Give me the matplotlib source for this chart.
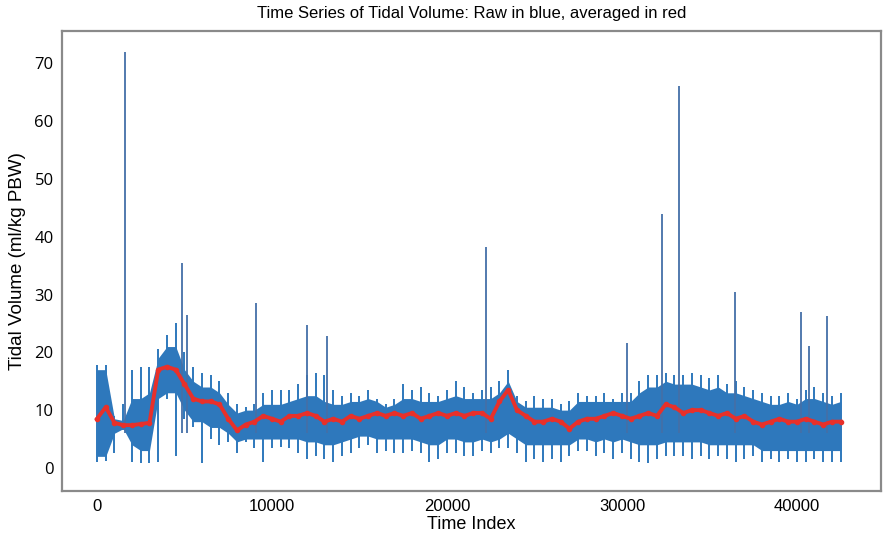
import numpy as np
import matplotlib
matplotlib.use("Agg")
import matplotlib.pyplot as plt

# bins of the time index (every 500 samples)
bin_idx = np.arange(0, 43000, 500)

# upper / lower tips of the raw (blue) trace in each bin
raw_hi = [17.8, 17.8, 9.0, 11.0, 17.0, 17.5, 17.5, 20.5, 23.0, 25.0,
          20.0, 17.5, 16.5, 16.0, 15.0, 13.0, 11.0, 10.5, 11.0, 13.0,
          13.5, 13.5, 13.5, 14.5, 16.0, 16.5, 16.0, 13.5, 12.5, 13.0,
          12.5, 13.5, 12.0, 11.0, 12.0, 14.5, 13.5, 14.0, 13.0, 12.5,
          13.5, 15.0, 14.0, 13.0, 13.5, 14.0, 15.0, 17.0, 12.5, 11.5,
          12.5, 12.0, 12.0, 11.0, 11.5, 13.0, 12.5, 12.5, 13.0, 12.0,
          13.0, 13.0, 15.0, 16.0, 16.0, 16.5, 16.0, 16.0, 16.5, 16.0,
          15.5, 16.0, 14.5, 15.0, 14.0, 13.5, 13.0, 12.5, 12.5, 13.0,
          12.0, 13.5, 14.0, 13.0, 12.5, 13.0]
raw_lo = [1.0, 1.2, 2.5, 6.5, 1.0, 0.8, 0.8, 1.0, 12.0, 2.0,
          8.5, 7.0, 0.8, 5.0, 4.0, 4.5, 2.5, 4.5, 3.5, 1.0,
          3.5, 3.7, 3.5, 2.5, 1.5, 2.0, 1.5, 1.0, 2.0, 2.5,
          3.5, 4.0, 2.5, 3.0, 2.5, 2.5, 3.0, 2.5, 1.0, 1.5,
          2.5, 2.5, 2.0, 2.0, 3.0, 2.5, 3.5, 3.5, 2.5, 1.0,
          1.5, 1.0, 1.5, 1.0, 2.0, 3.0, 3.0, 2.0, 2.5, 1.5,
          2.5, 1.5, 1.0, 0.8, 1.5, 2.0, 2.0, 2.0, 1.5, 2.0,
          1.5, 2.0, 1.5, 1.0, 1.5, 2.0, 1.0, 1.5, 1.0, 1.5,
          1.0, 1.0, 1.5, 1.0, 1.0, 1.0]

# dense core of the raw trace in each bin
core_hi = [17.0, 17.0, 8.5, 8.2, 12.0, 12.0, 13.0, 19.0, 21.0, 21.0,
           17.0, 15.0, 14.0, 14.0, 13.0, 11.0, 9.5, 10.0, 10.0, 11.0,
           11.0, 11.0, 11.5, 12.0, 12.5, 12.5, 11.5, 11.0, 11.0, 11.5,
           11.5, 12.0, 11.5, 10.5, 11.0, 12.0, 12.0, 11.5, 11.5, 11.5,
           12.0, 12.5, 12.0, 12.0, 12.0, 12.0, 13.0, 15.0, 11.5, 10.5,
           10.5, 10.5, 10.5, 10.0, 10.0, 11.5, 11.5, 11.5, 11.5, 11.5,
           11.5, 11.5, 13.0, 14.0, 14.0, 15.0, 14.5, 14.5, 14.5, 14.0,
           13.5, 14.0, 13.0, 13.0, 12.5, 12.0, 11.5, 11.0, 11.0, 11.5,
           11.0, 12.0, 12.0, 11.5, 11.0, 11.5]
core_lo = [2.0, 2.0, 6.0, 6.8, 4.0, 3.0, 3.0, 12.0, 13.0, 13.0,
           10.0, 8.0, 8.0, 7.0, 7.0, 6.0, 4.5, 5.0, 5.0, 5.0,
           5.0, 5.0, 5.0, 5.0, 4.5, 4.5, 4.0, 4.0, 4.5, 5.0,
           5.5, 5.5, 5.0, 5.0, 5.0, 5.0, 5.0, 4.5, 4.0, 4.0,
           5.0, 5.0, 4.5, 4.5, 5.0, 4.5, 5.0, 6.0, 5.0, 4.0,
           4.0, 4.0, 4.0, 4.0, 4.0, 5.0, 5.0, 4.5, 5.0, 4.5,
           5.0, 4.5, 4.0, 4.0, 4.0, 4.5, 4.5, 4.5, 4.5, 4.5,
           4.0, 4.0, 4.0, 4.0, 4.0, 4.0, 3.0, 3.0, 3.0, 3.0,
           3.0, 3.0, 3.0, 3.0, 3.0, 3.0]

# averaged (red) trace
avg_val = [8.5, 10.5, 7.8, 7.4, 7.4, 7.6, 7.8, 17.0, 17.5, 17.0,
           14.5, 12.0, 11.5, 11.5, 11.0, 8.5, 6.5, 7.5, 8.0, 9.0,
           8.5, 8.0, 9.0, 9.0, 9.5, 9.0, 8.0, 8.5, 8.0, 9.0,
           8.5, 9.0, 9.5, 9.0, 9.5, 9.0, 9.5, 8.5, 9.0, 9.5,
           9.0, 9.5, 9.0, 9.5, 9.5, 8.5, 11.5, 13.5, 10.0, 9.0,
           8.0, 8.0, 8.5, 8.0, 6.8, 8.0, 8.5, 8.5, 9.0, 9.5,
           9.0, 8.5, 9.0, 9.5, 9.0, 11.0, 10.5, 9.5, 10.0, 10.0,
           9.5, 9.0, 9.5, 8.5, 9.0, 8.0, 7.5, 8.0, 8.5, 8.0,
           8.0, 8.5, 8.0, 7.5, 8.0, 8.0]

# isolated spikes of the raw trace
spike_idx = [1600, 4850, 5130, 9100, 11980, 13120, 22230, 30300,
             32260, 33280, 36480, 40250, 40700, 41720]
spike_val = [72.0, 35.5, 26.5, 28.5, 24.8, 22.8, 38.3, 21.6,
             44.0, 66.0, 30.5, 26.9, 21.1, 26.3]

fig = plt.figure(figsize=(8.83, 5.39), dpi=100)
ax = fig.add_axes([0.0702, 0.089, 0.9275, 0.8535])

blue = '#2e78bc'
ax.fill_between(bin_idx, core_lo, core_hi, color=blue, lw=0)
ax.vlines(bin_idx, raw_lo, raw_hi, color=blue, lw=1.4)
ax.vlines(spike_idx, 6, spike_val, color='#4470a8', lw=1.3)
ax.plot(bin_idx, avg_val, color='#e8302a', lw=2.8, marker='o', ms=3)

ax.set_xlim(-2000, 44800)
ax.set_ylim(-4, 75.6)
ax.set_xticks([0, 10000, 20000, 30000, 40000])
ax.set_yticks(range(0, 80, 10))
ax.tick_params(length=0, pad=6)
for lab in ax.get_yticklabels():
    lab.set_fontfamily('Open Sans')
    lab.set_fontsize(12)
for lab in ax.get_xticklabels():
    lab.set_fontfamily(['Liberation Sans Narrow', 'Liberation Sans'])
    lab.set_fontsize(12)
for s in ax.spines.values():
    s.set_color('#8a8a8a')
    s.set_linewidth(1.6)

ax.set_title("Time Series of Tidal Volume: Raw in blue, averaged in red",
             fontsize=12, family='Liberation Sans', pad=9)
ax.set_xlabel("Time Index", fontsize=13, family='Liberation Sans', labelpad=1)
ax.set_ylabel("Tidal Volume (ml/kg PBW)", fontsize=13.5, family='Liberation Sans', labelpad=6)

fig.savefig("out.png", dpi=100)
